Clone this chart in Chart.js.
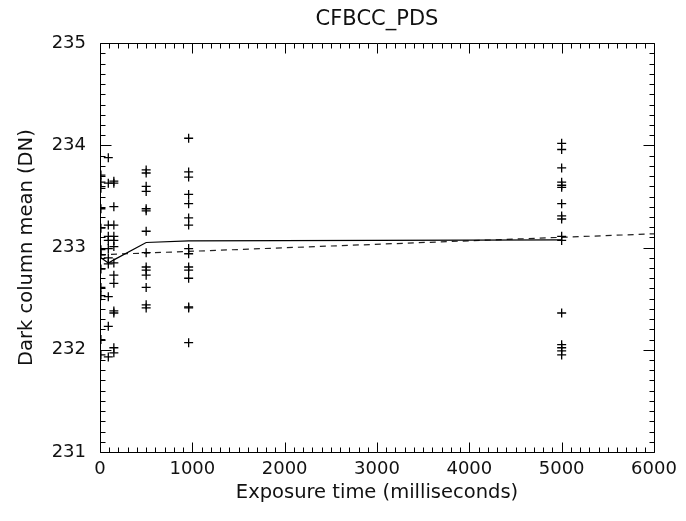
<!DOCTYPE html>
<html>
<head>
<meta charset="utf-8">
<script src="https://cdn.jsdelivr.net/npm/chart.js@4"></script>
<style>
  html, body { margin: 0; padding: 0; background: #fff; }
  #wrap { width: 686px; height: 521px; }
</style>
</head>
<body>
<div id="wrap"><canvas id="darkChart" width="686" height="521"></canvas></div>
<script>
// exposure times (ms) of each group of frames
const exposures = [10, 90, 150, 500, 960, 5000];

// dark column means per exposure group (DN)
const darkAt10 = [233.71, 233.64, 233.58, 233.38, 233.19, 232.98, 232.93, 232.79, 232.61, 232.53, 232.10, 231.95];
const darkAt90 = [233.88, 233.63, 233.22, 233.11, 233.07, 232.99, 232.90, 232.84, 232.52, 232.23, 231.93];
const darkAt150 = [233.65, 233.63, 233.40, 233.22, 233.11, 233.07, 233.01, 232.85, 232.73, 232.65, 232.38, 232.36, 232.02, 231.97];
const darkAt500 = [233.76, 233.73, 233.60, 233.55, 233.38, 233.36, 233.16, 232.95, 232.81, 232.78, 232.73, 232.61, 232.44, 232.41];
const darkAt960 = [234.07, 233.74, 233.69, 233.52, 233.43, 233.29, 233.22, 232.99, 232.94, 232.81, 232.78, 232.70, 232.42, 232.41, 232.07];
const darkAt5000 = [234.02, 233.96, 233.78, 233.64, 233.61, 233.59, 233.43, 233.31, 233.28, 233.11, 233.07, 232.36, 232.05, 232.02, 231.99, 231.95];

// mean per exposure (solid) and linear fit (dashed)
const meanValues = [232.90, 232.85, 232.88, 233.05, 233.065, 233.075];
const fitTimes = [0, 6000];
const fitValues = [232.93, 233.135];

const xTicks = [0, 1000, 2000, 3000, 4000, 5000, 6000];
const yTicks = [231, 232, 233, 234, 235];

const groups = [darkAt10, darkAt90, darkAt150, darkAt500, darkAt960, darkAt5000];
const points = groups.flatMap((vals, i) => vals.map((v) => ({ x: exposures[i], y: v })));

Chart.defaults.font.family = "'DejaVu Sans', sans-serif";
Chart.defaults.color = "#111";

// IDL-style box with inward major/minor ticks on all four sides
const boxTicks = {
  id: "boxTicks",
  afterDraw(chart) {
    const { ctx, chartArea: a, scales } = chart;
    const x = scales.x, y = scales.y;
    ctx.save();
    ctx.strokeStyle = "#000";
    ctx.lineWidth = 1;
    ctx.beginPath();
    const L = Math.round(a.left) + 0.5, R = Math.round(a.right) + 0.5;
    const T = Math.round(a.top) + 0.5, B = Math.round(a.bottom) + 0.5;
    ctx.rect(L, T, R - L, B - T);
    for (let v = 0; v <= 6000; v += 100) {
      const px = Math.round(x.getPixelForValue(v)) + 0.5;
      const len = v % 1000 === 0 ? 10 : 5;
      ctx.moveTo(px, B); ctx.lineTo(px, B - len);
      ctx.moveTo(px, T); ctx.lineTo(px, T + len);
    }
    for (let k = 0; k <= 40; k++) {
      const py = Math.round(y.getPixelForValue(231 + k / 10)) + 0.5;
      const len = k % 10 === 0 ? 11 : 5;
      ctx.moveTo(L, py); ctx.lineTo(L + len, py);
      ctx.moveTo(R, py); ctx.lineTo(R - len, py);
    }
    ctx.stroke();
    ctx.restore();
  },
};

new Chart(document.getElementById("darkChart"), {
  type: "scatter",
  data: {
    datasets: [
      {
        label: "frames",
        data: points,
        pointStyle: "cross",
        pointRadius: 4.5,
        pointBorderWidth: 1.3,
        borderColor: "#000",
        backgroundColor: "#000",
        showLine: false,
      },
      {
        label: "mean",
        data: exposures.map((t, i) => ({ x: t, y: meanValues[i] })),
        showLine: true,
        borderColor: "#000",
        borderWidth: 1.2,
        pointRadius: 0,
        tension: 0,
      },
      {
        label: "fit",
        data: fitTimes.map((t, i) => ({ x: t, y: fitValues[i] })),
        showLine: true,
        borderColor: "#222",
        borderWidth: 1.2,
        borderDash: [6, 5],
        pointRadius: 0,
      },
    ],
  },
  options: {
    responsive: false,
    animation: false,
    layout: { padding: { top: 0, right: 32, bottom: 0, left: 0 } },
    plugins: {
      legend: { display: false },
      tooltip: { enabled: false },
      title: {
        display: true,
        text: "CFBCC_PDS",
        fullSize: false,
        font: { size: 21, weight: "normal" },
        color: "#111",
        padding: { top: 7, bottom: 11 },
      },
    },
    scales: {
      x: {
        type: "linear",
        min: 0,
        max: 6000,
        afterBuildTicks: (s) => { s.ticks = xTicks.map((v) => ({ value: v })); },
        afterFit: (s) => { s.height = 69; },
        grid: { display: false, drawTicks: false },
        border: { display: false },
        ticks: { font: { size: 18 }, padding: 7, maxRotation: 0, color: "#111", callback: (v) => String(v) },
        title: {
          display: true,
          text: "Exposure time (milliseconds)",
          font: { size: 19.5 },
          color: "#111",
          padding: { top: 2, bottom: 16 },
        },
      },
      y: {
        type: "linear",
        min: 231,
        max: 235,
        afterBuildTicks: (s) => { s.ticks = yTicks.map((v) => ({ value: v })); },
        afterFit: (s) => { s.width = 100; },
        grid: { display: false, drawTicks: false },
        border: { display: false },
        ticks: { font: { size: 18 }, padding: 14, color: "#111", callback: (v) => String(v) },
        title: {
          display: true,
          text: "Dark column mean (DN)",
          font: { size: 19.5 },
          color: "#111",
          padding: { top: 15, bottom: 0 },
        },
      },
    },
  },
  plugins: [boxTicks],
});
</script>
</body>
</html>
